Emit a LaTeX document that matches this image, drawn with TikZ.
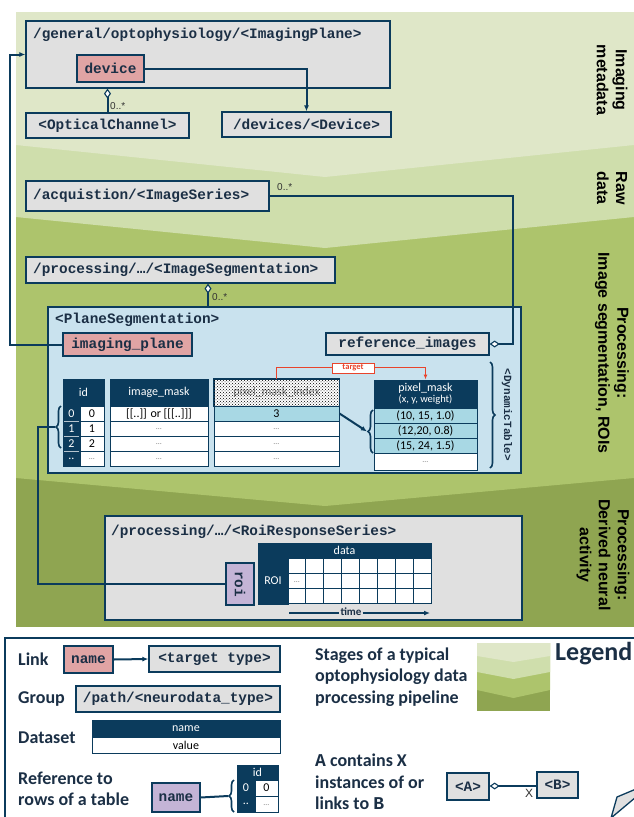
\documentclass[tikz,border=0pt]{standalone}
\usepackage{fontspec}
\setmainfont{Carlito}
\newfontfamily\MyMono{Liberation Mono}
\newfontfamily\MyArial{Liberation Sans}
\usetikzlibrary{patterns,decorations.pathreplacing,arrows.meta}
\definecolor{bgA}{HTML}{DFE7C8}
\definecolor{bgB}{HTML}{CFDEAC}
\definecolor{bgC}{HTML}{ADC46C}
\definecolor{bgD}{HTML}{8FA551}
\definecolor{navy}{HTML}{0B3B5C}
\definecolor{tnavy}{HTML}{1B2F45}
\definecolor{boxgray}{HTML}{E0E0E0}
\definecolor{linkpink}{HTML}{E0A4A4}
\definecolor{planeblue}{HTML}{C9E2EE}
\definecolor{rowblue}{HTML}{A8D8E4}
\definecolor{roipurple}{HTML}{C4B4D6}
\definecolor{tgtred}{HTML}{E8442C}
\definecolor{multgray}{HTML}{333333}
\newcommand{\MonoSz}{\MyMono\bfseries\fontsize{14.4}{17}\selectfont}
\newcommand{\CellSz}{\fontsize{12}{14}\selectfont}
\newcommand{\DotsX}{\raisebox{-3pt}{\fontsize{8}{8}\selectfont\color{gray}\ldots}}
% box from corner (x1,y1) to (x2,y2): style, name, x1, y1, x2, y2, text
\newcommand{\Bx}[7]{\node[#1, minimum width={(#5)-(#3)}, minimum height={(#6)-(#4)}] (#2) at ({((#3)+(#5))/2},{((#4)+(#6))/2}) {#7};}
\tikzset{
 gbox/.style={draw=navy, line width=1.3pt, fill=boxgray, inner sep=0pt, font=\MonoSz, text=tnavy},
 lbox/.style={gbox, fill=linkpink},
 pbox/.style={gbox, fill=roipurple},
 mtext/.style={inner sep=0pt, font=\MonoSz, text=tnavy},
 conn/.style={draw=navy, line width=2pt},
 dia/.style={{Diamond[fill=white, length=10pt, width=7pt, line width=1.1pt]}-},
 arr/.style={-{Latex[length=6pt, width=5pt]}},
 hdr/.style={fill=navy, draw=navy, line width=1pt, inner sep=0pt, text=white, font=\CellSz},
 idx/.style={fill=navy, draw=navy, line width=1pt, inner sep=0pt, text=white, font=\CellSz},
 cell/.style={fill=white, draw=navy, line width=1pt, inner sep=0pt, text=black, font=\CellSz},
 bcell/.style={cell, fill=rowblue},
 brc/.style={draw=navy, line width=1.6pt, decorate, decoration={brace, amplitude=5pt}},
 mult/.style={font=\MyArial\fontsize{10}{12}\selectfont, text=multgray, inner sep=0pt, anchor=west},
 stage/.style={font=\MyArial\bfseries\fontsize{16}{19}\selectfont, align=center, rotate=-90, inner sep=0pt},
 leg/.style={font=\bfseries\fontsize{18}{21.3}\selectfont, text=tnavy, align=left, inner sep=0pt, anchor=west},
}
\begin{document}
\begin{tikzpicture}[x=1pt,y=-1pt]
\useasboundingbox (0,0) rectangle (634,817);
% background bands
\fill[bgD] (16,12) rectangle (634,627);
\fill[bgC] (16,12) -- (634,12) -- (634,478) -- (325,506) -- (16,478) -- cycle;
\fill[bgB] (16,12) -- (634,12) -- (634,217) -- (325,248) -- (16,217) -- cycle;
\fill[bgA] (16,12) -- (634,12) -- (634,145) -- (325,177) -- (16,145) -- cycle;
% stage labels
\node[stage] (s1) at (612,80) {Imaging\\metadata};
\node[stage] (s2) at (612,188) {Raw\\data};
\node[stage] (s3) at (612,353) {Processing:\\Image segmentation, ROIs};
\node[stage] (s4) at (603,555) {Processing:\\Derived neural\\activity};
% imaging metadata
\Bx{gbox}{ip}{26}{21}{390}{88}{}
\node[mtext, anchor=west] (iptitle) at (33,35) {/general/optophysiology/<ImagingPlane>};
\Bx{lbox}{dev}{77}{55}{144}{82}{device}
\Bx{gbox}{oc}{26}{113}{189}{138}{<OpticalChannel>}
\Bx{gbox}{devs}{222}{112}{391}{137}{/devices/<Device>}
\draw[conn, arr] (dev.east) -| (devs.north);
\draw[conn, dia] (oc.north |- ip.south) -- (oc.north);
\node[mult] (m1) at (110,106) {0..*};
% raw data
\Bx{gbox}{is}{26}{181}{269}{211}{}
\node[mtext, anchor=west] (istitle) at (33,196) {/acquistion/<ImageSeries>};
\node[mult] (m2) at (277,187) {0..*};
% image segmentation
\Bx{gbox}{iseg}{26}{257}{335}{283}{}
\node[mtext, anchor=west] (isegtitle) at (33,270) {/processing/…/<ImageSegmentation>};
\Bx{gbox, fill=planeblue}{ps}{48}{307}{521}{473}{}
\node[mtext, anchor=west] (pstitle) at (55,320) {<PlaneSegmentation>};
\draw[conn, dia] ([xshift=27.5pt]iseg.south) -- ([xshift=27.5pt]iseg.south |- ps.north);
\node[mult] (m3) at (212,297) {0..*};
\Bx{lbox}{ipl}{63}{333}{192}{356}{imaging\_plane}
\Bx{gbox}{refimg}{326}{333}{489}{355}{reference\_images}
\draw[conn, dia] (refimg.east) -- (513,344) -- (513,196) -- (is.east);
\draw[conn, arr] (ipl.west) -- (10,344.5) -- (10,54.5) -- (ip.west);
% id table
\Bx{hdr}{idh}{63}{379}{104}{406}{id}
\foreach \r/\a in {0/0,1/1,2/2}{
  \Bx{idx}{idi\r}{63}{406+15*\r}{80}{421+15*\r}{\a}
  \Bx{cell}{idv\r}{80}{406+15*\r}{104}{421+15*\r}{\a}
}
\Bx{idx}{idi3}{63}{451}{80}{466}{..}
\Bx{cell}{idv3}{80}{451}{104}{466}{\DotsX}
\draw[white!70!navy, line width=0.6pt] (64,421) -- (79,421) (64,436) -- (79,436) (64,451) -- (79,451);
% image_mask
\Bx{hdr}{imh}{110}{379}{208}{406}{image\_mask}
\Bx{cell}{im0}{110}{406}{208}{421}{[[..]] or [[[..]]]}
\foreach \r in {1,2,3}{
  \Bx{cell}{im\r}{110}{406+15*\r}{208}{421+15*\r}{\DotsX}
}
% pixel_mask_index
\Bx{cell, text=gray}{pmih}{214}{379}{339}{406}{pixel\_mask\_index}
\fill[pattern=crosshatch dots, pattern color=black] (pmih.south west) rectangle (pmih.north east);
\draw[navy, line width=1pt] (pmih.south west) rectangle (pmih.north east);
\Bx{bcell}{pmi0}{214}{406}{339}{421}{3}
\foreach \r in {1,2,3}{
  \Bx{cell}{pmi\r}{214}{406+15*\r}{339}{421+15*\r}{\DotsX}
}
% pixel_mask
\Bx{hdr, align=center}{pmh}{374}{380}{477}{408}{pixel\_mask\\[-3pt]{\fontsize{10.5}{12}\selectfont (x, y, weight)}}
\Bx{bcell}{pm0}{374}{408}{477}{423}{(10, 15, 1.0)}
\Bx{bcell}{pm1}{374}{423}{477}{438}{(12,20, 0.8)}
\Bx{bcell}{pm2}{374}{438}{477}{453}{(15, 24, 1.5)}
\Bx{cell}{pm3}{374}{453}{477}{470}{\DotsX}
% braces
\draw[brc] (373,453) -- (373,410);
\coordinate (pmbt) at (367,431.5);
\draw[brc] (61,448) -- (61,406);
\coordinate (idbt) at (55,427);
\draw[brc] (490,362) -- (490,468);
\node[rotate=-90, inner sep=0pt, font=\MyMono\bfseries\fontsize{11}{12}\selectfont, text=tnavy] (dyn) at (507,415) {<DynamicTable>};
\draw[conn, arr] (pmi0.east) -- (pmbt);
% target
\draw[tgtred, line width=1.2pt, -{Latex[length=5pt, width=4pt]}] (pmih.north) -- ++(0,-11) -| (pmh.north);
\node[draw=tgtred, fill=white, text=tgtred, line width=1pt, font=\bfseries\fontsize{8.5}{10}\selectfont, minimum width=42pt, minimum height=10pt, inner sep=0pt] (tgt) at (353,368) {target};
% roi response series
\Bx{gbox}{rrs}{105}{516}{522}{620}{}
\node[mtext, anchor=west] (rrstitle) at (111,532) {/processing/…/<RoiResponseSeries>};
\node[pbox, rotate=-90, minimum width=42pt, minimum height=28pt] (roi) at (240,584) {roi};
\draw[conn] (idbt) -- (38,427) -- (38,584) -- (roi.south);
\Bx{hdr}{datah}{258}{543}{431}{558}{data}
\Bx{idx}{roih}{258}{558}{288}{604}{ROI}
\foreach \c in {0,...,7}{
  \foreach \r in {0,1,2}{
    \Bx{cell}{g\c\r}{288+17.875*\c}{558+15.33*\r}{288+17.875*(\c+1)}{558+15.33*(\r+1)}{}
  }
}
\node[inner sep=0pt] (gdots) at (g01) {\DotsX};
\node[inner sep=1pt, font=\bfseries\fontsize{11}{12}\selectfont, text=tnavy] (time) at (351,612) {time};
\coordinate (timeL) at (289,613);
\coordinate (timeR) at (430,613);
\draw[conn] (timeL) -- (time.west |- timeL);
\draw[conn, arr] (time.east |- timeR) -- (timeR);
% legend frame
\draw[navy, line width=1.5pt] (5,830) -- (5,638) -- (645,638);
\node[leg] (lLink) at (18,659) {Link};
\Bx{lbox}{lname}{64}{646}{113}{673}{name}
\Bx{gbox}{ltgt}{149}{646}{280}{672}{<target type>}
\draw[conn, arr] (lname.east) -- (ltgt.west);
\node[leg] (lGroup) at (18,699) {Group};
\Bx{gbox}{lpath}{76}{686}{280}{712}{/path/<neurodata\_type>}
\node[leg] (lData) at (18,738) {Dataset};
\Bx{hdr}{lnm}{92}{720}{280}{737}{name}
\Bx{cell}{lval}{92}{737}{280}{753}{value}
\node[leg] (lRef) at (18,788.5) {Reference to\\rows of a table};
\Bx{pbox}{lpn}{152}{783}{200}{812}{name}
\Bx{hdr}{lidh}{237}{765}{278}{780}{id}
\Bx{idx}{lidi0}{237}{780}{255}{796}{0}
\Bx{cell}{lidv0}{255}{780}{278}{796}{0}
\Bx{idx}{lidi1}{237}{796}{255}{812}{..}
\Bx{cell}{lidv1}{255}{796}{278}{812}{\DotsX}
\draw[brc] (234,812) -- (234,780);
\coordinate (lbt) at (228,796);
\draw[conn] (lpn.east) -- (lbt);
\node[leg] (lStages) at (315,677) {Stages of a typical\\optophysiology data\\processing pipeline};
\fill[bgD] (477,643) rectangle (550,711);
\fill[bgC] (477,643) -- (550,643) -- (550,690) -- (513.5,698) -- (477,690) -- cycle;
\fill[bgB] (477,643) -- (550,643) -- (550,672) -- (513.5,679) -- (477,672) -- cycle;
\fill[bgA] (477,643) -- (550,643) -- (550,656) -- (513.5,662) -- (477,656) -- cycle;
\node[font=\bfseries\fontsize{26}{30}\selectfont, text=tnavy, anchor=west, inner sep=0pt] (legtitle) at (555,654) {Legend};
\node[leg] (lCont) at (315,782) {{\MyMono\bfseries A} contains X\\instances of or\\links to {\MyMono\bfseries B}};
\Bx{gbox}{lA}{447}{773}{489}{800}{<A>}
\Bx{gbox}{lB}{537}{772}{578}{798}{<B>}
\draw[conn, line width=1.4pt, dia] (lA.east |- 0,786) -- (lB.west |- 0,786);
\node[mult, font=\MyArial\fontsize{12}{12}\selectfont] (lX) at (525,793) {X};
\filldraw[fill=boxgray, draw=navy, line width=1.3pt] (611,818) -- (617,797) -- (636,789) -- (636,797) -- cycle;
\end{tikzpicture}
\end{document}
